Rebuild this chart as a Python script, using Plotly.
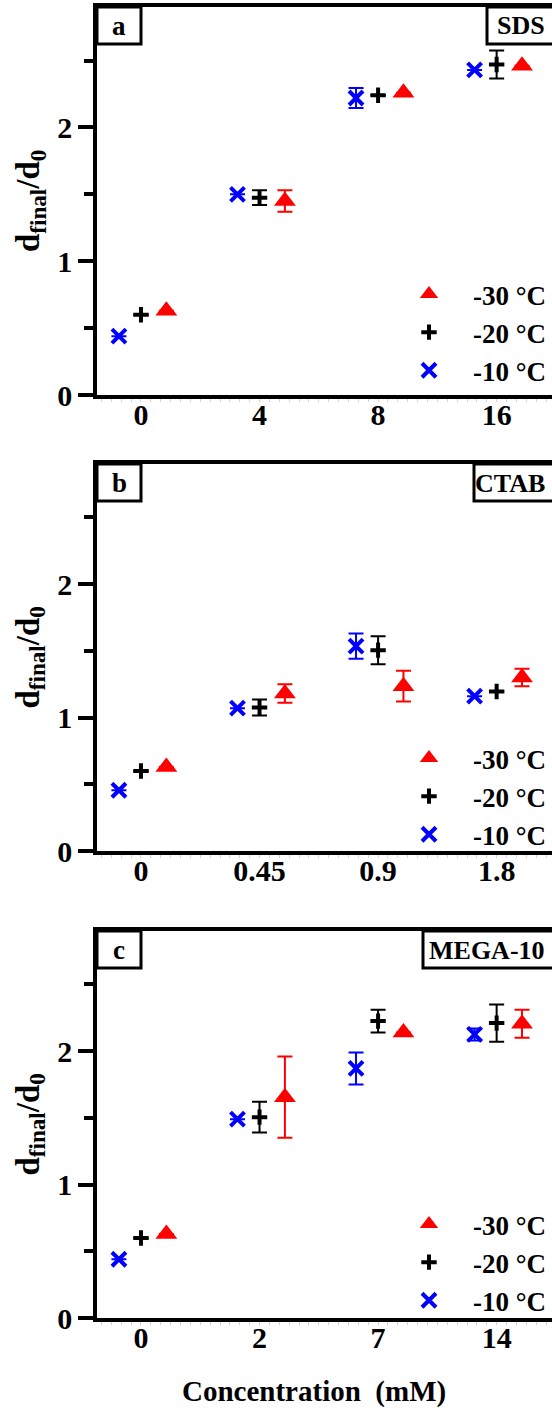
import plotly.graph_objects as go

# ---- data -------------------------------------------------------------
temps = ["-30 °C", "-20 °C", "-10 °C"]

sds_labels = ["0", "4", "8", "16"]
sds_m30 = [0.63, 1.45, 2.26, 2.46]
sds_m30_err = [None, 0.08, None, None]
sds_m20 = [0.60, 1.475, 2.24, 2.47]
sds_m20_err = [None, 0.055, None, 0.105]
sds_m10 = [0.44, 1.50, 2.22, 2.43]
sds_m10_err = [None, None, 0.075, None]

ctab_labels = ["0", "0.45", "0.9", "1.8"]
ctab_m30 = [0.63, 1.18, 1.235, 1.30]
ctab_m30_err = [None, 0.07, 0.115, 0.065]
ctab_m20 = [0.60, 1.075, 1.505, 1.195]
ctab_m20_err = [None, 0.06, 0.105, None]
ctab_m10 = [0.455, 1.07, 1.535, 1.16]
ctab_m10_err = [None, None, 0.095, None]

mega_labels = ["0", "2", "7", "14"]
mega_m30 = [0.63, 1.655, 2.14, 2.205]
mega_m30_err = [None, 0.305, None, 0.105]
mega_m20 = [0.60, 1.505, 2.225, 2.21]
mega_m20_err = [None, 0.115, 0.085, 0.14]
mega_m10 = [0.44, 1.49, 1.87, 2.125]
mega_m10_err = [None, None, 0.12, 0.045]

panels = [
    ("a", "SDS", sds_labels,
     [(sds_m30, sds_m30_err), (sds_m20, sds_m20_err), (sds_m10, sds_m10_err)]),
    ("b", "CTAB", ctab_labels,
     [(ctab_m30, ctab_m30_err), (ctab_m20, ctab_m20_err), (ctab_m10, ctab_m10_err)]),
    ("c", "MEGA-10", mega_labels,
     [(mega_m30, mega_m30_err), (mega_m20, mega_m20_err), (mega_m10, mega_m10_err)]),
]

# ---- styling ----------------------------------------------------------
W, H = 552, 1408
FONT = "Liberation Serif"
colors = ["#FF0000", "#000000", "#0000FF"]
symbols = ["triangle-up", "cross-thin", "x-thin"]
msize = [19, 11, 14]
offsets = [0.214, 0.0, -0.186]

plot_left = 97
panel_px = [(7, 395), (464, 851), (931, 1318)]   # top, bottom in px
box_left = [487, 474, 423]
legend_top = [270, 734, 1200]
LW = 3.5

def py(p):
    return 1 - p / H

def px(p):
    return p / W

fig = go.Figure()
shapes, annotations = [], []

for i, (tag, name, labels, series) in enumerate(panels):
    n = "" if i == 0 else str(i + 1)
    xa, ya = "x" + n, "y" + n
    leg = "legend" + n
    top, bot = panel_px[i]
    cats = list(range(len(labels)))

    for k, (vals, errs) in enumerate(series):
        fig.add_trace(go.Scatter(
            x=[c + offsets[k] for c in cats], y=vals,
            mode="markers", name=temps[k],
            xaxis=xa, yaxis=ya, legend=leg,
            marker=dict(symbol=symbols[k], size=msize[k], color=colors[k],
                        line=dict(color=colors[k], width=4 if k > 0 else 0)),
            error_y=dict(type="data", array=errs, visible=True,
                         color=colors[k], thickness=2, width=7.5),
        ))

    fig.layout["xaxis" + n] = dict(
        domain=[px(plot_left), 1], anchor=ya, range=[-0.371, 3.467],
        tickmode="array", tickvals=cats, ticktext=labels,
        showline=True, linewidth=LW, linecolor="black", mirror=True,
        ticks="", ticklabelstandoff=-10,
        tickfont=dict(family=FONT, size=30, color="black", weight="bold"),
        minor=dict(ticks="outside", ticklen=3, tickwidth=1,
                   tickcolor="#d4d4d4", tick0=0, dtick=1 / 12),
        showgrid=False, zeroline=False,
    )
    fig.layout["yaxis" + n] = dict(
        domain=[py(bot), py(top)], anchor=xa, range=[0, 2.9],
        tickmode="array", tickvals=[0, 1, 2],
        showline=True, linewidth=LW, linecolor="black", mirror=False,
        ticks="outside", ticklen=15, tickwidth=LW, tickcolor="black",
        minor=dict(ticks="outside", ticklen=9, tickwidth=LW,
                   tickcolor="black", tick0=0, dtick=0.5),
        tickfont=dict(family=FONT, size=30, color="black", weight="bold"),
        showgrid=False, zeroline=False,
    )
    fig.layout[leg] = dict(
        x=px(385), y=py(legend_top[i]), xanchor="left", yanchor="top",
        xref="paper", yref="paper", bgcolor="rgba(0,0,0,0)",
        font=dict(family=FONT, size=27, color="black", weight="bold"),
        itemwidth=78, traceorder="normal",
    )

    # panel tag box (top-left) and surfactant box (top-right)
    shapes.append(dict(type="rect", xref="paper", yref="paper",
                       x0=px(plot_left), x1=px(141), y0=py(top + 37), y1=py(top),
                       line=dict(color="black", width=3)))
    shapes.append(dict(type="rect", xref="paper", yref="paper",
                       x0=px(box_left[i]), x1=px(W + 40), y0=py(top + 37), y1=py(top),
                       line=dict(color="black", width=3)))
    annotations.append(dict(text=tag, xref="paper", yref="paper",
                            x=px(119), y=py(top + 19), showarrow=False,
                            xanchor="center", yanchor="middle",
                            font=dict(family=FONT, size=27, color="black", weight="bold")))
    annotations.append(dict(text=name, xref="paper", yref="paper",
                            x=px(547), y=py(top + 19), showarrow=False,
                            xanchor="right", yanchor="middle",
                            font=dict(family=FONT, size=26, color="black", weight="bold")))
    annotations.append(dict(text="d<sub>final</sub>/d<sub>0</sub>", xref="paper", yref="paper",
                            x=px(30), y=py((top + bot) / 2), showarrow=False,
                            textangle=-90, xanchor="center", yanchor="middle",
                            font=dict(family=FONT, size=33, color="black", weight="bold")))

annotations.append(dict(text="Concentration\u00a0\u00a0(mM)", xref="paper", yref="paper",
                        x=px(314), y=py(1391), showarrow=False,
                        xanchor="center", yanchor="middle",
                        font=dict(family=FONT, size=29, color="black", weight="bold")))

fig.update_layout(
    width=W, height=H,
    margin=dict(l=0, r=0, t=0, b=0, autoexpand=False),
    paper_bgcolor="white", plot_bgcolor="white",
    font=dict(family=FONT, color="black", weight="bold"),
    shapes=shapes, annotations=annotations, showlegend=True,
)

fig.write_html("out.html")
